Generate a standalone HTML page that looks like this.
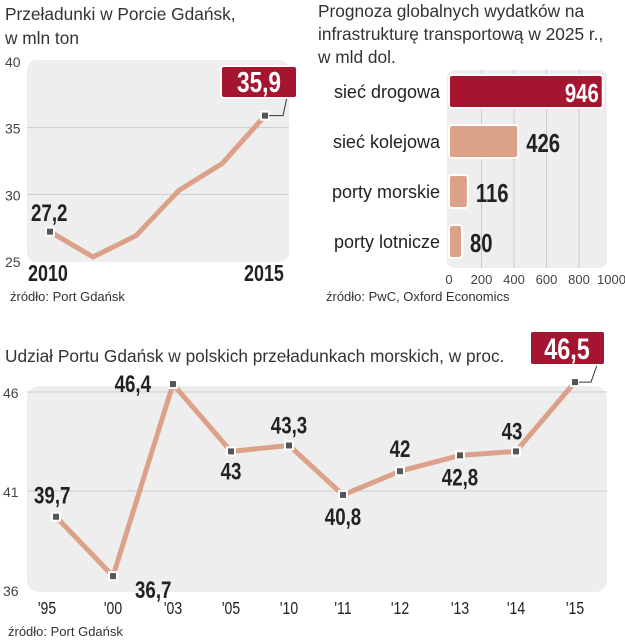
<!DOCTYPE html>
<html><head><meta charset="utf-8"><style>
html,body{margin:0;padding:0;background:#fff;}
svg{display:block;font-family:"Liberation Sans",sans-serif;}
.t{font-size:17.3px;fill:#333;}
.tk{font-size:14px;fill:#444;}
.b{font-family:"Liberation Sans",sans-serif;font-weight:bold;font-size:22px;fill:#222;}
.src{font-size:13px;fill:#333;}
</style></head><body>
<svg id="s" width="625" height="640" viewBox="0 0 625 640">
<text class="t" x="5" y="20">Przeładunki w Porcie Gdańsk,</text>
<text class="t" x="5" y="44">w mln ton</text>
<rect x="27" y="60" width="262" height="202" rx="10" fill="#eeeeee"/>
<text class="src" x="10" y="301">źródło: Port Gdańsk</text>
<text class="t" x="318" y="17">Prognoza  globalnych wydatków na</text>
<text class="t" x="318" y="40">infrastrukturę transportową w 2025 r.,</text>
<text class="t" x="318" y="63">w mld dol.</text>
<rect x="447" y="70" width="160" height="198" rx="8" fill="#eeeeee"/>
<text class="src" x="326" y="301">źródło: PwC, Oxford Economics</text>
<text class="t" x="5" y="362">Udział Portu Gdańsk w polskich przeładunkach morskich, w proc.</text>
<rect x="27" y="386" width="580" height="206" rx="12" fill="#eeeeee"/>
<text class="src" x="8" y="636">źródło: Port Gdańsk</text>
<g id="g1"></g><g id="g2"></g><g id="g3"></g>
</svg>
<script>
const NS="http://www.w3.org/2000/svg";
function mk(p,tag,a,txt){const e=document.createElementNS(NS,tag);for(const k in a)e.setAttribute(k,a[k]);if(txt!==undefined)e.textContent=txt;p.appendChild(e);return e;}
function nb(p,x,y,txt,style,anchor){const e=mk(p,'text',{x:0,y:0,class:'b',transform:`translate(${x} ${y}) scale(0.78 1)`,'text-anchor':anchor||'start',style:style||''},txt);return e;}
// Chart 1 data
const c1Years=[2010,2011,2012,2013,2014,2015];
const c1Values=[27.2,25.3,26.9,30.3,32.3,35.9];
const c1Ticks=[25,30,35,40];
// Chart 2 data
const c2Cats=["sieć drogowa","sieć kolejowa","porty morskie","porty lotnicze"];
const c2Values=[946,426,116,80];
const c2Ticks=[0,200,400,600,800,1000];
// Chart 3 data
const c3Cats=["'95","'00","'03","'05","'10","'11","'12","'13","'14","'15"];
const c3Values=[39.7,36.7,46.4,43,43.3,40.8,42,42.8,43,46.5];
const c3Labels=["39,7","36,7","46,4","43","43,3","40,8","42","42,8","43","46,5"];
const c3Ticks=[36,41,46];

// chart1
(function(){
const g=document.getElementById('g1');
const y=v=>261-(v-25)*(200/15), x=i=>50+i*(215/5);
c1Ticks.forEach(t=>{
 if(t>25&&t<40){const l=mk(g,'line',{x1:27,x2:289,y1:y(t),y2:y(t),stroke:'#ccc'});}
 const tx=mk(g,'text',{x:5,y:y(t)+6,class:'tk'},String(t));
 
 
});
const pts=c1Values.map((v,i)=>x(i)+','+y(v)).join(' ');
const pl=mk(g,'polyline',{points:pts,fill:'none',stroke:'#dca189','stroke-width':5,'stroke-linejoin':'round'});


[0,c1Values.length-1].forEach(i=>{
 const m=mk(g,'rect',{x:x(i)-4,y:y(c1Values[i])-4,width:8,height:8,fill:'#555',stroke:'#fff','stroke-width':2});
 
 
});
const n=c1Values.length-1;
mk(g,'polyline',{points:`${x(n)+4},${y(c1Values[n])} ${x(n)+18},${y(c1Values[n])} ${x(n)+22},97`,fill:'none',stroke:'#333','stroke-width':1});
const bx=mk(g,'rect',{x:221,y:66,width:76,height:32,rx:3,fill:'#a51530',stroke:'#fff','stroke-width':2});


const bt=nb(g,259,92,String(c1Values[n]).replace('.',','),'fill:#fff;font-size:29px','middle');


const ft=nb(g,31,221,String(c1Values[0]).replace('.',','),'font-size:24px');


[[0,28],[n,244]].forEach(([i,xx])=>{
 const t=nb(g,xx,281,String(c1Years[i]),'font-size:23px');
 
 
});
})();

// chart2
(function(){
const g=document.getElementById('g2');
const x=v=>449+v*0.1625;
c2Ticks.forEach(t=>{
 if(t>0&&t<1000){const l=mk(g,'line',{x1:x(t),x2:x(t),y1:70,y2:268,stroke:'#ccc'});}
 const tx=mk(g,'text',{x:x(t),y:284,class:'tk','text-anchor':'middle',style:'font-size:13px'},String(t));
 
 
});
c2Values.forEach((v,i)=>{
 const yy=75+i*50, top=i==0;
 const r=mk(g,'rect',{x:449,y:yy,width:x(v)-449,height:33,rx:3,fill:top?'#a51530':'#dca189',stroke:'#fff','stroke-width':2});
 
 
 const lb=mk(g,'text',{x:440,y:yy+23,'text-anchor':'end',style:'font-size:18px;fill:#222'},c2Cats[i]);
 
 
 const vt=top?nb(g,x(v)-4,yy+27,String(v),'fill:#fff;font-size:26px','end')
            :nb(g,x(v)+8,yy+27,String(v),'font-size:26px');
 
 
});
})();

// chart3
(function(){
const g=document.getElementById('g3');
const y=v=>590-(v-36)*19.8;
const xs=i=>[56,113,173,231,289,343,400,460,516,575][i];
c3Ticks.forEach(t=>{
 if(t>36){const l=mk(g,'line',{x1:27,x2:607,y1:y(t),y2:y(t),stroke:'#ccc'});}
 const tx=mk(g,'text',{x:3,y:y(t)+6,class:'tk'},String(t));
 
 
});
const pts=c3Values.map((v,i)=>xs(i)+','+y(v)).join(' ');
const pl=mk(g,'polyline',{points:pts,fill:'none',stroke:'#dca189','stroke-width':5,'stroke-linejoin':'round'});


const off=[[-22,-13,'start'],[22,22,'start'],[-22,8,'end'],[0,28,'middle'],[0,-12,'middle'],[0,30,'middle'],[0,-14,'middle'],[0,30,'middle'],[-4,-12,'middle']];
c3Values.forEach((v,i)=>{
 const m=mk(g,'rect',{x:xs(i)-4,y:y(v)-4,width:8,height:8,fill:'#555',stroke:'#fff','stroke-width':2});
 
 
 const xl=nb(g,xs(i)-(i==0?9:0),614,c3Cats[i],'font-size:18px;font-weight:normal','middle');
 
 
 if(i<9){
  const [dx,dy,an]=off[i];
  const t=nb(g,xs(i)+dx,y(v)+dy,c3Labels[i],'font-size:24px',an);
  
  
 }
});
const n=c3Values.length-1;
mk(g,'polyline',{points:`${xs(n)+4},${y(c3Values[n])} ${xs(n)+16},${y(c3Values[n])} ${xs(n)+22},365`,fill:'none',stroke:'#333','stroke-width':1});
const bx=mk(g,'rect',{x:530,y:331,width:75,height:34,rx:3,fill:'#a51530',stroke:'#fff','stroke-width':2});


const bt=nb(g,567,359,c3Labels[n],'fill:#fff;font-size:30px','middle');


})();
</script>
</body></html>
